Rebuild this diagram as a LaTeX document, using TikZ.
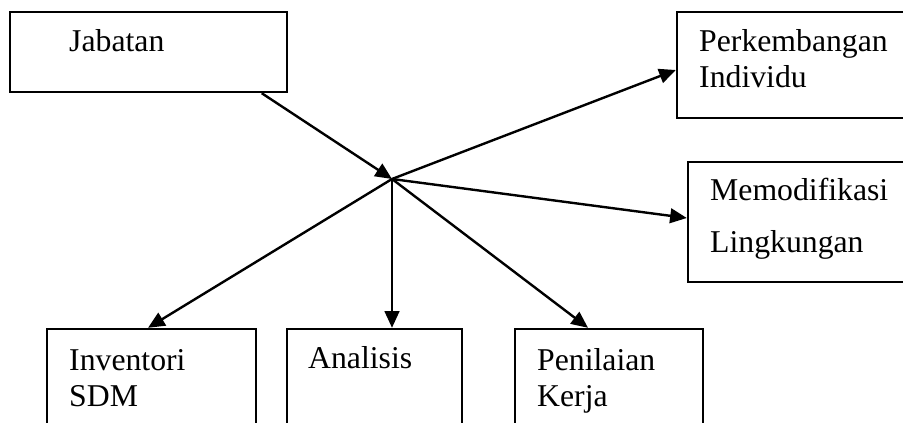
\documentclass[tikz,border=0pt]{standalone}
\usepackage{fontspec}
\setmainfont{Liberation Serif}
\usetikzlibrary{arrows.meta,fit}

\tikzset{every picture/.style={line width=1.8pt}}
\tikzset{
	kotak/.style={draw, rectangle, inner sep=0pt},
	teks/.style={anchor=base west, inner sep=0pt, align=left, font=\fontsize{23.8}{27.5}\selectfont},
	panah/.style={-{Triangle[length=12.5pt,width=11pt]}}
}

\begin{document}
\begin{tikzpicture}[x=0.75pt,y=0.75pt,yscale=-1,xscale=1]
	\useasboundingbox (0,0) rectangle (903,423);

	%Boxes
	\node [kotak, fit={(10,12) (287,92)}] (jab) {};
	\node [kotak, fit={(677,12) (906,118)}] (perk) {};
	\node [kotak, fit={(688,162) (906,282)}] (mod) {};
	\node [kotak, fit={(47,329) (256,440)}] (inv) {};
	\node [kotak, fit={(287,329) (462,440)}] (ana) {};
	\node [kotak, fit={(515,329) (703,440)}] (pen) {};

	%Meeting point of the arrows
	\coordinate (hub) at (392,179);

	%Arrows
	\draw [panah] (jab.-20) -- (hub);
	\draw [panah] (hub) -- ([yshift=3.75pt]perk.west);
	\draw [panah] (hub) -- ([yshift=-3pt]mod.west);
	\draw [panah] (hub) -- ([xshift=-2.6pt]inv.north);
	\draw [panah] (hub) -- (hub |- ana.north);
	\draw [panah] (hub) -- ([xshift=-15.75pt]pen.north);

	% Text Node (base = last line)
	\node [teks] (tjab) at (68,52) {Jabatan};
	% Text Node
	\node [teks] (tperk) at (698,88) {Perkembangan\\Individu};
	% Text Node
	\node [teks] (tmod) at (709,253) {Memodifikasi\\[12pt]Lingkungan};
	% Text Node
	\node [teks] (tinv) at (68,407) {Inventori\\SDM};
	% Text Node
	\node [teks] (tana) at (307,369) {Analisis};
	% Text Node
	\node [teks] (tpen) at (536,407) {Penilaian\\Kerja};

\end{tikzpicture}
\end{document}
